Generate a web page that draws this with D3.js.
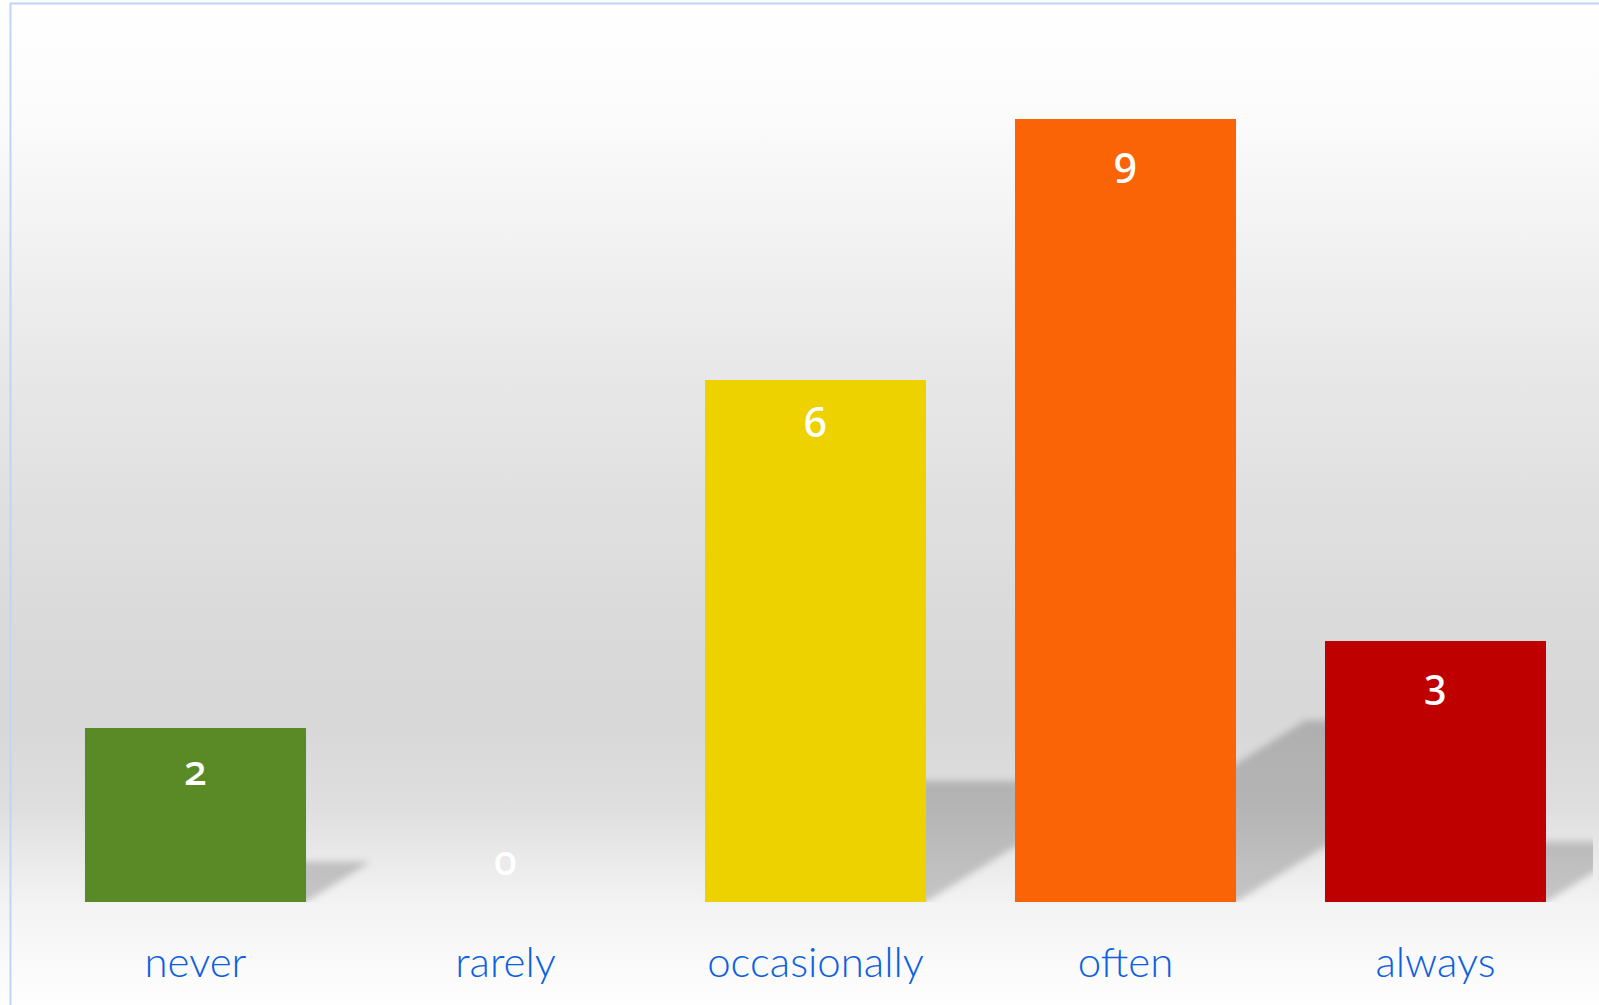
<!DOCTYPE html>
<html>
<head>
<meta charset="utf-8">
<script src="https://cdn.jsdelivr.net/npm/d3@7"></script>
<style>
  html, body { margin: 0; padding: 0; background: #ffffff; overflow: hidden; }
  svg { display: block; }
</style>
</head>
<body>
<svg id="chart" width="1599" height="1005"></svg>
<script>
// ---- data ----
const categories = ["never", "rarely", "occasionally", "often", "always"];
const values = [2, 0, 6, 9, 3];
const colors = ["#5a8a25", "#eed200", "#eed200", "#fa6407", "#bf0000"];

const W = 1599, H = 1005;
const svg = d3.select("#chart");
const defs = svg.append("defs");

// background gradient
const bg = defs.append("linearGradient").attr("id", "bgGrad")
  .attr("x1", 0).attr("y1", 0).attr("x2", 0).attr("y2", 1);
[[0, "#ffffff"], [0.10, "#fcfcfc"], [0.20, "#f5f5f5"], [0.35, "#e9e9e9"],
 [0.50, "#e0e0e0"], [0.62, "#dadada"], [0.72, "#d8d8d8"], [0.80, "#dedede"],
 [0.86, "#ebebeb"], [0.90, "#f3f3f3"], [0.95, "#f9f9f9"], [1, "#fefefe"]]
  .forEach(([o, c]) => bg.append("stop").attr("offset", o).attr("stop-color", c));

const blur = defs.append("filter").attr("id", "shadowBlur")
  .attr("x", "-20%").attr("y", "-20%").attr("width", "140%").attr("height", "140%");
blur.append("feGaussianBlur").attr("stdDeviation", 3.5);

const frameX = 10, frameY = 3, clipRight = 1593;

svg.append("rect").attr("x", 0).attr("y", 0).attr("width", W).attr("height", H)
  .attr("fill", "url(#bgGrad)");

// scales
const x = d3.scaleBand().domain(categories).range([40.5, 1590.5])
  .paddingInner(0.287).paddingOuter(0.1435);
const y = d3.scaleLinear().domain([0, d3.max(values)]).range([902, 119]);

defs.append("clipPath").attr("id", "plotClip").append("rect")
  .attr("x", frameX).attr("y", frameY).attr("width", clipRight - frameX).attr("height", y(0) - frameY);

const data = categories.map((c, i) => ({ c, v: values[i], color: colors[i] }));

// shadows
const shRatio = 0.232, shSlant = 1.6;
const shadowG = svg.append("g").attr("clip-path", "url(#plotClip)");
shadowG.selectAll("path.shadow").data(data.filter(d => d.v > 0)).join("path")
  .attr("class", "shadow")
  .attr("fill", "#000").attr("fill-opacity", 0.19)
  .attr("filter", "url(#shadowBlur)")
  .attr("d", d => {
    const x0 = x(d.c), x1 = x(d.c) + x.bandwidth(), b = y(0);
    const sh = shRatio * (y(0) - y(d.v)), dx = shSlant * sh;
    return `M${x0},${b}L${x1},${b}L${x1 + dx},${b - sh}L${x0 + dx},${b - sh}Z`;
  });

// bars
svg.append("g").selectAll("rect.bar").data(data).join("rect")
  .attr("class", "bar")
  .attr("x", d => x(d.c)).attr("width", x.bandwidth())
  .attr("y", d => y(d.v)).attr("height", d => y(0) - y(d.v))
  .attr("fill", d => d.color);

// value labels
svg.append("g").selectAll("text.val").data(data).join("text")
  .attr("class", "val")
  .attr("x", d => x(d.c) + x.bandwidth() / 2)
  .attr("y", d => Math.min(y(d.v) + 57, y(0) - 27))
  .attr("text-anchor", "middle")
  .attr("fill", "#ffffff")
  .style("font-family", "'Noto Sans', 'Open Sans', sans-serif")
  .style("font-size", "41px")
  .style("font-weight", 500)
  .style("font-feature-settings", "'onum' 1")
  .style("font-variant-numeric", "oldstyle-nums")
  .text(d => d.v);

// category labels
const xAxis = svg.append("g").attr("transform", `translate(0,${y(0)})`)
  .call(d3.axisBottom(x).tickSize(0).tickPadding(0));
xAxis.select(".domain").remove();
xAxis.selectAll("text")
  .attr("y", 75).attr("dy", null)
  .attr("fill", "#0b60df")
  .style("font-family", "Lato, 'Open Sans', sans-serif")
  .style("font-weight", 300)
  .style("font-size", "42px");

// frame
svg.append("path")
  .attr("d", `M${frameX + 0.5},${H}V${frameY + 0.5}H${W}`)
  .attr("fill", "none").attr("stroke", "#bdd6f8").attr("stroke-width", 2);
</script>
</body>
</html>
